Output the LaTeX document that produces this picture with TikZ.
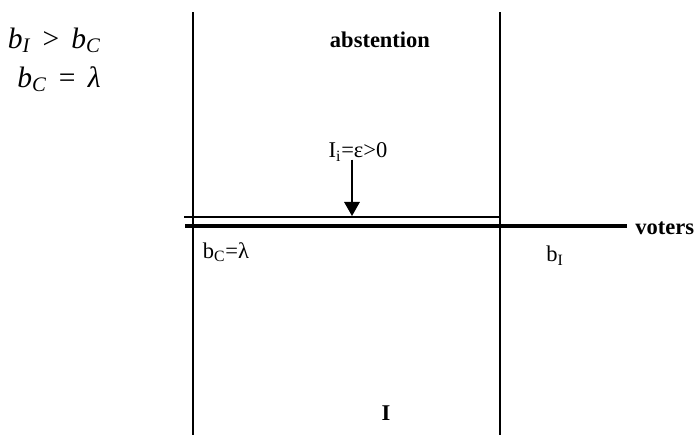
\documentclass[tikz,border=0pt]{standalone}
\usepackage{fontspec}
\setmainfont{Liberation Serif}
\usetikzlibrary{arrows.meta}

\begin{document}
\begin{tikzpicture}[x=0.025cm,y=-0.025cm,
  txt/.style={font=\fontsize{16}{18}\selectfont,inner sep=0pt},
  btxt/.style={font=\fontsize{16}{18}\selectfont\bfseries,inner sep=0pt},
  eqn/.style={font=\fontsize{21}{24}\selectfont\itshape,inner sep=0pt,anchor=base east},
  edge/.style={line width=1.3pt},
  axis/.style={line width=3.5pt}]
\useasboundingbox (0,0) rectangle (696,435);
% condition
\node[eqn] (cond1) at (101,48) {b\textsubscript{I} \,\textup{>}\, b\textsubscript{C}};
\node[eqn] (cond2) at (101,87) {b\textsubscript{C} \,\textup{=}\, λ};
% regions
\coordinate (lt) at (193,12); \coordinate (lb) at (193,435);
\coordinate (rt) at (500,12); \coordinate (rb) at (500,435);
\draw[edge] (lt)--(lb);
\draw[edge] (rt)--(rb);
\node[btxt] (abst) at (380,40) {abstention};
\node[btxt] (inc) at (386,413) {I};
% voters line
\coordinate (th1) at (184,217); \coordinate (th2) at (500,217);
\coordinate (tk1) at (185,226); \coordinate (tk2) at (627,226);
\draw[edge] (th1)--(th2);
\draw[axis] (tk1)--(tk2);
\node[btxt,anchor=base west] (voters) at (635,234) {voters};
\node[txt] (bc) at (226,252) {b\textsubscript{C}=λ};
\node[txt] (bi) at (555,256) {b\textsubscript{I}};
% noise
\node[txt] (eps) at (358,152) {I\textsubscript{i}=ε>0};
\coordinate (hit) at (352,216);
\draw[edge,-{Triangle[width=11pt,length=10pt]}] (eps.south-|hit)++(0,-2)--(hit);
\end{tikzpicture}
\end{document}
